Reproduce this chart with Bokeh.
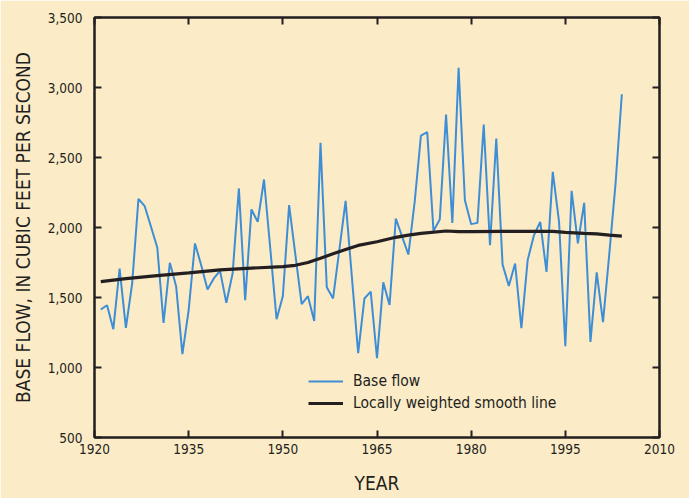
from bokeh.plotting import figure
from bokeh.models import (LinearAxis, FixedTicker, Range1d, Legend, LegendItem,
                          NumeralTickFormatter)
from bokeh.embed import file_html
from bokeh.resources import INLINE

# ---- data ----
years = list(range(1921, 2005))
base_flow = [1414, 1445, 1274, 1707, 1283, 1600, 2205, 2152, 2005, 1857,
             1319, 1748, 1581, 1095, 1410, 1886, 1731, 1557, 1636, 1690,
             1462, 1671, 2279, 1481, 2129, 2040, 2343, 1850, 1345, 1509,
             2160, 1805, 1452, 1509, 1333, 2605, 1573, 1493, 1840, 2190,
             1645, 1102, 1493, 1542, 1066, 1608, 1447, 2064, 1935, 1807,
             2183, 2657, 2681, 1976, 2057, 2807, 2033, 3140, 2195, 2024,
             2033, 2736, 1874, 2636, 1736, 1583, 1743, 1281, 1767, 1945,
             2040, 1683, 2397, 2040, 1152, 2262, 1886, 2176, 1183, 1679,
             1324, 1810, 2314, 2952]

smooth_years = [1921, 1925, 1930, 1935, 1940, 1945, 1950, 1952, 1954, 1956,
                1958, 1960, 1962, 1965, 1968, 1970, 1972, 1976, 1978, 1980,
                1985, 1990, 1993, 1995, 1998, 2000, 2002, 2004]
smooth_flow = [1614, 1635, 1656, 1676, 1697, 1710, 1720, 1730, 1750, 1780,
               1812, 1843, 1872, 1898, 1930, 1946, 1958, 1975, 1970, 1970,
               1972, 1972, 1972, 1965, 1958, 1955, 1945, 1938]

x_ticks = [1920, 1935, 1950, 1965, 1980, 1995, 2010]
y_ticks = [500, 1000, 1500, 2000, 2500, 3000, 3500]

series_labels = ["Base flow", "Locally weighted smooth line"]
x_title = "YEAR"
y_title = "BASE FLOW, IN CUBIC FEET PER SECOND"

# ---- styling ----
BG = "#FBEBC7"
INK = "#231F20"
BLUE = "#3E8ED6"
FONT = "DejaVu Sans Condensed, Liberation Sans Narrow, sans-serif"

p = figure(width=689, height=498, output_backend="svg", toolbar_location=None,
           x_range=Range1d(1920, 2010), y_range=Range1d(500, 3500),
           min_border_left=94, min_border_right=30, min_border_top=17,
           min_border_bottom=61,
           background_fill_color=BG, border_fill_color=BG,
           outline_line_color=INK, outline_line_width=2)
p.grid.visible = False

r_base = p.line(years, base_flow, line_color=BLUE, line_width=2)
r_smooth = p.line(smooth_years, smooth_flow, line_color=INK, line_width=3.2)

def style_axis(ax, ticks, show_labels):
    ax.ticker = FixedTicker(ticks=ticks)
    ax.axis_line_color = INK
    ax.axis_line_width = 2
    ax.major_tick_line_color = INK
    ax.major_tick_line_width = 2
    ax.major_tick_in = 7
    ax.major_tick_out = 0
    ax.minor_tick_line_color = None
    ax.major_label_text_font = FONT
    ax.major_label_text_color = INK
    ax.major_label_text_font_size = "13.5px"
    if not show_labels:
        ax.major_label_overrides = {t: "" for t in ticks}
        ax.major_label_standoff = 0

xa = p.xaxis[0]
ya = p.yaxis[0]
style_axis(xa, x_ticks, True)
style_axis(ya, y_ticks, True)
ya.formatter = NumeralTickFormatter(format="0,0")
xa.major_label_standoff = 6
ya.major_label_standoff = 12

xa.axis_label = x_title
ya.axis_label = y_title
for ax in (xa, ya):
    ax.axis_label_text_font = FONT
    ax.axis_label_text_font_style = "normal"
    ax.axis_label_text_color = INK
    ax.axis_label_text_font_size = "19px"
xa.axis_label_standoff = 15
ya.axis_label_standoff = 11

top = LinearAxis()
style_axis(top, x_ticks, False)
p.add_layout(top, "above")
right = LinearAxis()
style_axis(right, y_ticks, False)
p.add_layout(right, "right")

legend = Legend(items=[LegendItem(label=series_labels[0], renderers=[r_base]),
                       LegendItem(label=series_labels[1], renderers=[r_smooth])],
                location=(214, 24), orientation="vertical",
                padding=0, margin=0, spacing=2,
                glyph_width=35, glyph_height=20, label_height=20,
                label_standoff=10,
                label_text_font=FONT, label_text_font_size="15.5px",
                label_text_color=INK,
                background_fill_alpha=0, border_line_color=None)
p.add_layout(legend)

open("out.html", "w").write(file_html(p, INLINE))
